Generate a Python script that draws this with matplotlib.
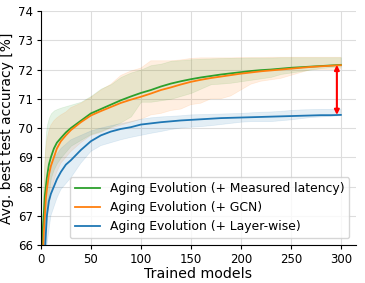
import numpy as np
import matplotlib
matplotlib.use('Agg')
import matplotlib.pyplot as plt

# trained models (x) and mean / band values
models = [1, 2, 3, 4, 5, 6, 8, 10, 13, 16, 20, 25, 30, 40, 50, 60, 70, 80, 90, 100,
          110, 120, 130, 140, 150, 160, 170, 180, 190, 200, 210, 220, 230, 240, 250,
          260, 270, 280, 290, 300]

latency_mean = [64.5, 66.6, 67.1, 67.7, 68.0, 68.3, 68.75, 69.0, 69.3, 69.5, 69.66, 69.85,
                70.0, 70.25, 70.5, 70.65, 70.8, 70.95, 71.08, 71.2, 71.3, 71.42, 71.52,
                71.6, 71.67, 71.73, 71.78, 71.83, 71.87, 71.91, 71.95, 71.98, 72.0, 72.03,
                72.06, 72.08, 72.1, 72.12, 72.14, 72.16]
latency_low = [63.0, 64.5, 66.0, 66.5, 67.0, 67.3, 67.8, 68.3, 68.6, 68.8, 69.0, 69.2,
               69.4, 69.6, 69.8, 69.9, 70.05, 70.2, 70.4, 70.9, 70.9, 70.95, 71.0,
               71.1, 71.2, 71.35, 71.5, 71.52, 71.55, 71.6, 71.65, 71.7, 71.75, 71.85,
               71.9, 71.95, 72.0, 72.05, 72.08, 72.1]
latency_high = [66.0, 67.5, 68.5, 69.2, 69.8, 70.1, 70.35, 70.5, 70.6, 70.65, 70.7, 70.75,
                70.8, 70.9, 71.1, 71.35, 71.5, 71.75, 71.9, 72.0, 72.15, 72.2, 72.3,
                72.32, 72.35, 72.37, 72.38, 72.39, 72.4, 72.4, 72.41, 72.41, 72.41, 72.42,
                72.42, 72.42, 72.42, 72.42, 72.42, 72.42]

gcn_mean = [63.5, 65.6, 66.5, 67.0, 67.6, 67.9, 68.4, 68.7, 69.0, 69.3, 69.55, 69.75,
            69.93, 70.2, 70.43, 70.58, 70.72, 70.86, 70.97, 71.07, 71.18, 71.3, 71.39,
            71.49, 71.58, 71.65, 71.71, 71.76, 71.81, 71.86, 71.9, 71.94, 71.97, 72.0,
            72.03, 72.06, 72.09, 72.11, 72.13, 72.15]
gcn_low = [62.0, 63.5, 65.5, 66.0, 66.5, 66.9, 67.3, 67.8, 68.2, 68.5, 68.8, 69.0,
           69.2, 69.5, 69.75, 69.85, 70.0, 70.1, 70.2, 70.3, 70.45, 70.5, 70.6,
           70.65, 70.8, 70.85, 71.0, 71.0, 71.1, 71.3, 71.5, 71.6, 71.65, 71.7,
           71.8, 71.9, 72.0, 72.0, 72.0, 72.02]
gcn_high = [65.0, 66.8, 68.0, 68.8, 69.3, 69.6, 69.9, 70.1, 70.25, 70.35, 70.45, 70.55,
            70.7, 70.85, 71.05, 71.3, 71.5, 71.8, 71.95, 72.05, 72.3, 72.3, 72.3,
            72.33, 72.38, 72.4, 72.4, 72.4, 72.4, 72.41, 72.41, 72.41, 72.42, 72.42,
            72.42, 72.42, 72.42, 72.42, 72.42, 72.42]

layer_mean = [62.0, 63.5, 64.8, 65.7, 66.4, 67.0, 67.5, 67.75, 68.0, 68.25, 68.5, 68.75,
              68.9, 69.25, 69.55, 69.75, 69.88, 69.97, 70.03, 70.12, 70.16, 70.2, 70.23,
              70.26, 70.28, 70.3, 70.32, 70.34, 70.35, 70.36, 70.37, 70.38, 70.39, 70.4,
              70.41, 70.42, 70.43, 70.44, 70.44, 70.45]
layer_low = [60.5, 62.0, 63.5, 64.5, 65.5, 66.0, 66.5, 67.0, 67.3, 67.6, 67.9, 68.1,
             68.3, 68.8, 69.2, 69.4, 69.5, 69.6, 69.68, 69.75, 69.82, 69.88, 69.95,
             70.0, 70.03, 70.05, 70.08, 70.12, 70.16, 70.2, 70.22, 70.22, 70.22, 70.25,
             70.28, 70.32, 70.36, 70.38, 70.4, 70.42]
layer_high = [63.5, 65.0, 66.0, 67.0, 67.5, 68.0, 68.5, 68.8, 69.0, 69.1, 69.3, 69.45,
              69.6, 69.75, 69.9, 70.0, 70.08, 70.15, 70.22, 70.3, 70.35, 70.38, 70.4,
              70.42, 70.45, 70.46, 70.47, 70.48, 70.49, 70.5, 70.52, 70.54, 70.55, 70.57,
              70.6, 70.62, 70.63, 70.64, 70.64, 70.65]

fig = plt.figure(figsize=(3.65, 2.83), dpi=100)
ax = fig.add_axes([0.112, 0.134, 0.863, 0.827])

series = [
    ('Aging Evolution (+ Measured latency)', latency_mean, latency_low, latency_high, '#2ca02c'),
    ('Aging Evolution (+ GCN)', gcn_mean, gcn_low, gcn_high, '#ff7f0e'),
    ('Aging Evolution (+ Layer-wise)', layer_mean, layer_low, layer_high, '#1f77b4'),
]
for label, mean, low, high, color in series:
    ax.fill_between(models, low, high, color=color, alpha=0.12, linewidth=0.5)
for label, mean, low, high, color in series:
    ax.plot(models, mean, color=color, lw=1.3, label=label)

# gap between best and layer-wise
ax.annotate('', xy=(296, latency_mean[-1]), xytext=(296, layer_mean[-1]),
            arrowprops=dict(arrowstyle='<|-|>', color='red', lw=1.5,
                            mutation_scale=7, shrinkA=0, shrinkB=0))

ax.set_xlim(0, 315)
ax.set_ylim(66, 74)
ax.set_xticks([0, 50, 100, 150, 200, 250, 300])
ax.set_yticks([66, 67, 68, 69, 70, 71, 72, 73, 74])
ax.grid(True, color='#dddddd', lw=0.8)
ax.set_axisbelow(True)
ax.spines['top'].set_visible(False)
ax.spines['right'].set_visible(False)
ax.tick_params(labelsize=8.5, length=3, pad=2.5)
ax.set_xlabel('Trained models', fontsize=10.2, labelpad=1)
ax.set_ylabel('Avg. best test accuracy [%]', fontsize=10, labelpad=3)
ax.legend(loc='lower right', fontsize=8.9, handlelength=2.0, borderaxespad=0.55)

fig.savefig('out.png', dpi=100)
